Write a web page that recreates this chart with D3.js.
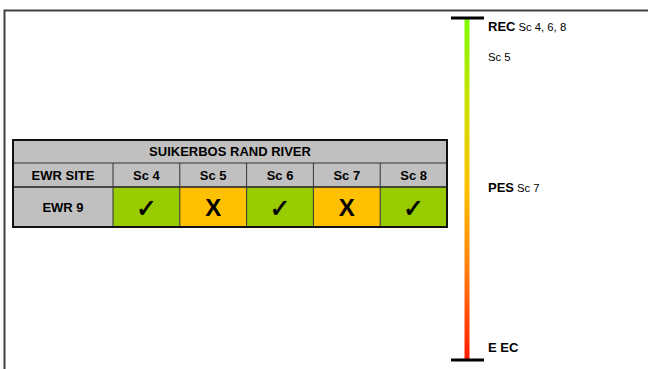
<!DOCTYPE html>
<html><head><meta charset="utf-8">
<script src="https://cdn.jsdelivr.net/npm/d3@7"></script>
<style>html,body{margin:0;padding:0;background:#fff;}svg{display:block;font-family:"Liberation Sans",Arial,sans-serif;}</style>
</head><body>
<script>
// ---- data ----
const riverName = "SUIKERBOS RAND RIVER";
const siteHeader = "EWR SITE";
const siteName = "EWR 9";
const scenarios = ["Sc 4", "Sc 5", "Sc 6", "Sc 7", "Sc 8"];
const meetsREC = [true, false, true, false, true];
// scale labels: position along the category bar (0 = top cap, 100 = bottom cap)
const scaleBold = ["REC", "", "PES", "E EC"];
const scaleNote = ["Sc 4, 6, 8", "Sc 5", "Sc 7", ""];
const scalePos = [2.2, 11, 49.2, 96];

const W = 648, H = 369;
const svg = d3.select("body").append("svg").attr("width", W).attr("height", H);

// frame (top & left)
svg.append("path").attr("d", `M4.5,${H} L4.5,10.5 L${W},10.5`).attr("fill","none").attr("stroke","#404040").attr("stroke-width",2);

// ---- table ----
const tx0 = 13, tx1 = 447, firstW = 100;
const x = d3.scaleBand().domain(scenarios).range([tx0 + firstW, tx1]);
const rowY = [140, 163, 187, 227];
const fs = 13;
const g = svg.append("g");
g.append("rect").attr("x", tx0).attr("y", rowY[0]).attr("width", tx1 - tx0).attr("height", rowY[3]-rowY[0]).attr("fill", "#c0c0c0");
g.selectAll("rect.cell").data(scenarios).join("rect").attr("class","cell")
  .attr("x", d => x(d)).attr("y", rowY[2]).attr("width", x.bandwidth()).attr("height", rowY[3]-rowY[2])
  .attr("fill", (d,i) => meetsREC[i] ? "#99cc00" : "#ffc000");
// inner lines
g.append("line").attr("x1",tx0).attr("x2",tx1).attr("y1",rowY[1]).attr("y2",rowY[1]).attr("stroke","#333").attr("stroke-width",1);
g.append("line").attr("x1",tx0).attr("x2",tx1).attr("y1",rowY[2]).attr("y2",rowY[2]).attr("stroke","#222").attr("stroke-width",1.5);
g.selectAll("line.v").data(scenarios).join("line").attr("class","v")
  .attr("x1", d => x(d)).attr("x2", d => x(d)).attr("y1", rowY[1]).attr("y2", rowY[3]).attr("stroke","#333").attr("stroke-width",1);
g.append("rect").attr("x", tx0).attr("y", rowY[0]).attr("width", tx1 - tx0).attr("height", rowY[3]-rowY[0])
  .attr("fill","none").attr("stroke","#111").attr("stroke-width",2);
// texts
g.append("text").attr("x",(tx0+tx1)/2).attr("y",(rowY[0]+rowY[1])/2).attr("dy","0.35em").attr("text-anchor","middle")
  .attr("font-weight","bold").attr("font-size",fs).text(riverName);
g.append("text").attr("x",tx0+firstW/2).attr("y",(rowY[1]+rowY[2])/2).attr("dy","0.35em").attr("text-anchor","middle")
  .attr("font-weight","bold").attr("font-size",fs).text(siteHeader);
g.append("text").attr("x",tx0+firstW/2).attr("y",(rowY[2]+rowY[3])/2).attr("dy","0.35em").attr("text-anchor","middle")
  .attr("font-weight","bold").attr("font-size",fs).text(siteName);
g.selectAll("text.h").data(scenarios).join("text").attr("class","h")
  .attr("x", d => x(d) + x.bandwidth()/2).attr("y",(rowY[1]+rowY[2])/2).attr("dy","0.35em").attr("text-anchor","middle")
  .attr("font-weight","bold").attr("font-size",fs).text(d => d);
g.selectAll("text.m").data(scenarios).join("text").attr("class","m")
  .attr("x", d => x(d) + x.bandwidth()/2).attr("y",(rowY[2]+rowY[3])/2 + 1).attr("dy","0.35em").attr("text-anchor","middle")
  .attr("font-weight","bold").attr("font-size", (d,i) => meetsREC[i] ? 25 : 24)
  .attr("font-family", (d,i) => meetsREC[i] ? "DejaVu Sans" : "Liberation Sans")
  .attr("stroke", (d,i) => meetsREC[i] ? "#000" : "none").attr("stroke-width", 0.7)
  .text((d,i) => meetsREC[i] ? "\u2713" : "X");

// ---- category scale bar ----
const barX = 467, yTop = 18, yBot = 360;
const y = d3.scaleLinear().domain([0, 100]).range([yTop, yBot]);
const defs = svg.append("defs");
const grad = defs.append("linearGradient").attr("id","ecg").attr("x1",0).attr("y1",0).attr("x2",0).attr("y2",1);
grad.append("stop").attr("offset","0%").attr("stop-color","#7cfc00");
grad.append("stop").attr("offset","25%").attr("stop-color","#cde000");
grad.append("stop").attr("offset","50%").attr("stop-color","#ffc000");
grad.append("stop").attr("offset","75%").attr("stop-color","#ff7a10");
grad.append("stop").attr("offset","100%").attr("stop-color","#ff1a00");
svg.append("rect").attr("x", barX-2.5).attr("y", y(0)).attr("width",5).attr("height", y(100)-y(0)).attr("fill","url(#ecg)");
svg.append("line").attr("x1",451).attr("x2",484).attr("y1",y(0)).attr("y2",y(0)).attr("stroke","#000").attr("stroke-width",3);
svg.append("line").attr("x1",451).attr("x2",484).attr("y1",y(100)).attr("y2",y(100)).attr("stroke","#000").attr("stroke-width",3);

const lab = svg.selectAll("text.lab").data(scalePos).join("text").attr("class","lab")
  .attr("x", 488).attr("y", d => y(d)).attr("dy","0.35em");
lab.append("tspan").attr("font-weight","bold").attr("font-size",13).text((d,i) => scaleBold[i]);
lab.append("tspan").attr("font-size",11.3).attr("dx",(d,i)=> scaleBold[i] ? 3 : 0).text((d,i) => scaleNote[i]);
</script>
</body></html>
